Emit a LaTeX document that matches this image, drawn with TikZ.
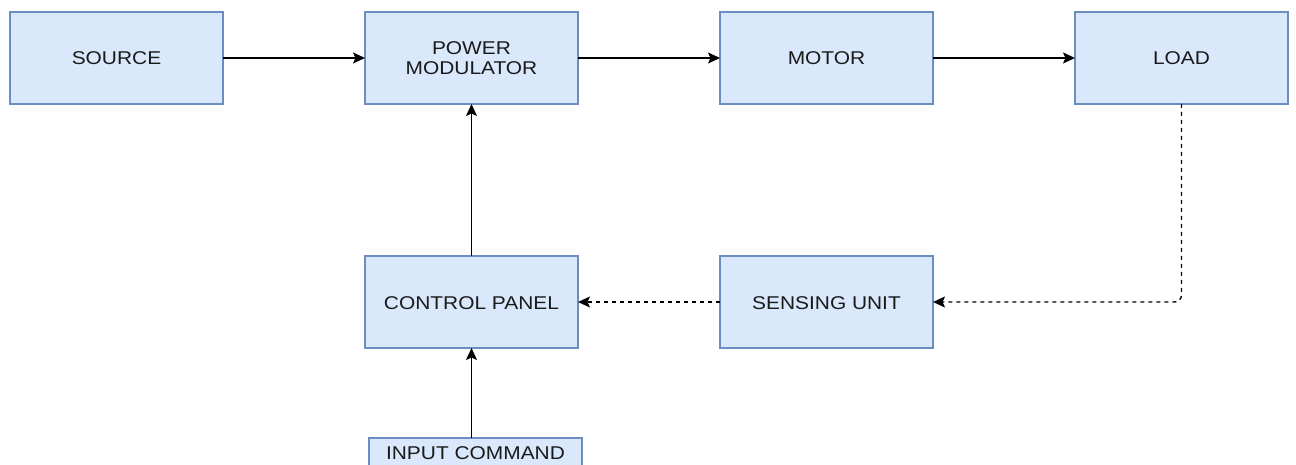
\documentclass[tikz,border=0pt]{standalone}
\usepackage{fontspec}
\setmainfont{Liberation Sans}
\usetikzlibrary{arrows.meta,positioning}
\definecolor{cBox}{HTML}{DAE8FC}
\definecolor{cEdge}{HTML}{6C8EBF}
\definecolor{cText}{HTML}{1A1A1A}
% draw.io text is a little wider than Arial
\newcommand{\boxtxt}[1]{\raisebox{0pt}[\height][0pt]{\scalebox{1.13}[1]{\begin{tabular}[b]{@{}c@{}}#1\end{tabular}}}}
\tikzset{
  node distance=152pt and 142pt,
  blk/.style ={rectangle, draw=cEdge, fill=cBox, line width=1.3pt, align=center,
               font=\fontsize{18.5}{20}\selectfont, text=cText, outer sep=0pt,
               minimum width=213pt, minimum height=92pt, inner sep=2pt},
  fl/.style  ={-{Stealth[length=12pt,width=11pt,inset=2.5pt]}, draw=black, line width=1.4pt},
  fb/.style  ={fl, dash pattern=on 4pt off 4pt, rounded corners=7pt},
}

\begin{document}
\begin{tikzpicture}
  \useasboundingbox (0,0) rectangle (1296pt,-465pt);
  \node[blk] (src) at (116.5pt,-58pt) {\boxtxt{SOURCE}};
  \node[blk,right=of src] (pm) {\boxtxt{POWER\\MODULATOR}};
  \node[blk,right=of pm] (mot) {\boxtxt{MOTOR}};
  \node[blk,right=of mot] (load) {\boxtxt{LOAD}};
  \node[blk,below=of pm] (cp) {\boxtxt{CONTROL PANEL}};
  \node[blk,below=of mot] (su) {\boxtxt{SENSING UNIT}};
  \node[blk,minimum height=28pt,below=90pt of cp,xshift=4pt] (inp) {\boxtxt{INPUT COMMAND}};
  \draw[fl](src)--(pm);\draw[fl](pm)--(mot);\draw[fl](mot)--(load);
  \draw[fl](cp)--(pm);
  \draw[fl](inp.north -| cp)--(cp.south);
  \draw[fb](load.south)|-(su.east);
  \draw[fb](su)--(cp);
\end{tikzpicture}
\end{document}
